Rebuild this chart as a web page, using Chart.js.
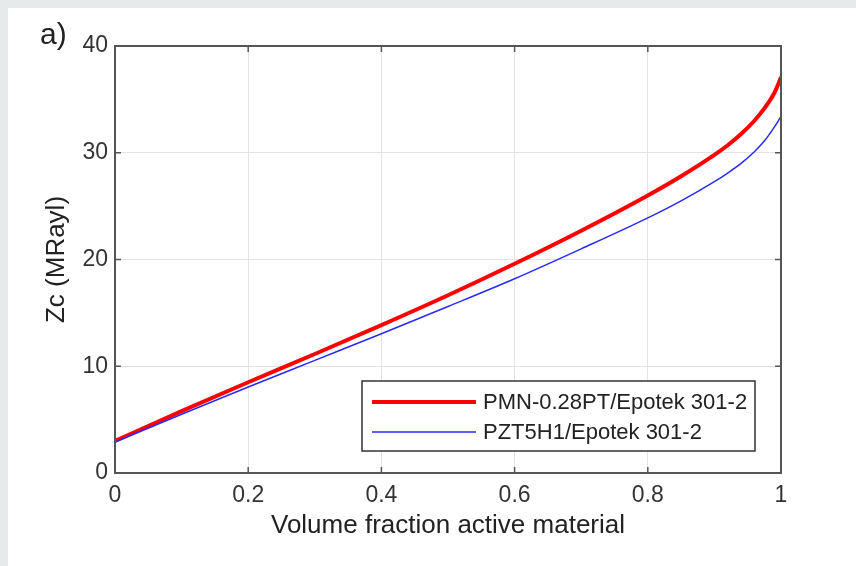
<!DOCTYPE html>
<html>
<head>
<meta charset="utf-8">
<script src="https://cdn.jsdelivr.net/npm/chart.js@4.4.0/dist/chart.umd.min.js"></script>
<style>
  html, body { margin: 0; padding: 0; background: #e7eaeb; }
  #wrap { position: absolute; left: 0; top: 0; width: 856px; height: 566px; }
</style>
</head>
<body>
<div id="wrap"><canvas id="zcChart" width="856" height="566"></canvas></div>
<script>
// Dados
const fractions = [0, 0.1, 0.2, 0.3, 0.4, 0.5, 0.6, 0.7, 0.8, 0.85, 0.9, 0.92, 0.94, 0.96, 0.975, 0.99, 0.995, 1.0];
const pmnValues = [3.0, 5.8, 8.5, 11.15, 13.85, 16.65, 19.6, 22.7, 26.0, 27.8, 29.8, 30.7, 31.75, 33.0, 34.15, 35.6, 36.3, 37.1];
const pztValues = [2.9, 5.5, 8.05, 10.55, 13.05, 15.6, 18.2, 21.0, 23.9, 25.5, 27.3, 28.1, 29.0, 30.1, 31.1, 32.4, 32.9, 33.4];
const xTicks = [0, 0.2, 0.4, 0.6, 0.8, 1];
const yTicks = [0, 10, 20, 30, 40];
const seriesLabels = ['PMN-0.28PT/Epotek 301-2', 'PZT5H1/Epotek 301-2'];

const FONT = 'Liberation Sans, Arial, sans-serif';

function toPoints(xs, ys) {
    return xs.map((x, i) => ({ x: x, y: ys[i] }));
}

// Fundo: moldura cinza + painel branco
const backgroundPlugin = {
    id: 'background',
    beforeDraw(chart) {
        const ctx = chart.ctx;
        ctx.save();
        ctx.fillStyle = '#e7eaeb';
        ctx.fillRect(0, 0, chart.width, chart.height);
        ctx.fillStyle = '#ffffff';
        ctx.fillRect(8, 8, chart.width - 8, chart.height - 8);
        ctx.font = '30px ' + FONT;
        ctx.fillStyle = '#222';
        ctx.textBaseline = 'alphabetic';
        ctx.fillText('a)', 40, 44);
        ctx.restore();
    }
};

// Caixa do eixo com ticks para dentro (estilo MATLAB)
const boxPlugin = {
    id: 'axisBox',
    afterDatasetsDraw(chart) {
        const { ctx, chartArea: a, scales } = chart;
        ctx.save();
        ctx.strokeStyle = '#555';
        ctx.lineWidth = 1.5;
        xTicks.forEach(v => {
            const px = scales.x.getPixelForValue(v);
            ctx.beginPath();
            ctx.moveTo(px, a.bottom); ctx.lineTo(px, a.bottom - 6);
            ctx.moveTo(px, a.top); ctx.lineTo(px, a.top + 6);
            ctx.stroke();
        });
        yTicks.forEach(v => {
            const py = scales.y.getPixelForValue(v);
            ctx.beginPath();
            ctx.moveTo(a.left, py); ctx.lineTo(a.left + 6, py);
            ctx.moveTo(a.right, py); ctx.lineTo(a.right - 6, py);
            ctx.stroke();
        });
        ctx.lineWidth = 2;
        ctx.strokeRect(a.left, a.top, a.right - a.left, a.bottom - a.top);
        ctx.restore();
    }
};

// Legenda dentro da área do gráfico
const legendPlugin = {
    id: 'boxLegend',
    afterDraw(chart) {
        const ctx = chart.ctx;
        const x0 = 362, y0 = 381, w = 393, h = 70;
        ctx.save();
        ctx.fillStyle = '#fff';
        ctx.fillRect(x0, y0, w, h);
        ctx.strokeStyle = '#333';
        ctx.lineWidth = 1.5;
        ctx.strokeRect(x0, y0, w, h);
        ctx.font = '22px ' + FONT;
        ctx.textBaseline = 'middle';
        chart.data.datasets.forEach((ds, i) => {
            const y = y0 + 21 + i * 30;
            ctx.strokeStyle = ds.borderColor;
            ctx.lineWidth = ds.borderWidth;
            ctx.beginPath();
            ctx.moveTo(x0 + 10, y);
            ctx.lineTo(x0 + 114, y);
            ctx.stroke();
            ctx.fillStyle = '#222';
            ctx.fillText(ds.label, x0 + 121, y + 1);
        });
        ctx.restore();
    }
};

const zcChart = new Chart(document.getElementById('zcChart'), {
    type: 'line',
    data: {
        datasets: [{
            label: seriesLabels[0],
            data: toPoints(fractions, pmnValues),
            borderColor: '#ff0000',
            borderWidth: 4,
            pointRadius: 0,
            cubicInterpolationMode: 'monotone',
            order: 1
        }, {
            label: seriesLabels[1],
            data: toPoints(fractions, pztValues),
            borderColor: '#2a2aff',
            borderWidth: 1.5,
            pointRadius: 0,
            cubicInterpolationMode: 'monotone',
            order: 0
        }]
    },
    options: {
        responsive: false,
        animation: false,
        layout: { padding: { left: 0, top: 46, right: 75, bottom: 0 } },
        plugins: {
            legend: { display: false },
            tooltip: { enabled: false }
        },
        scales: {
            x: {
                type: 'linear',
                min: 0,
                max: 1,
                afterBuildTicks(scale) {
                    scale.ticks = xTicks.map(v => ({ value: v }));
                },
                afterFit(scale) { scale.height = 93; },
                grid: { color: '#e3e3e3', lineWidth: 1, drawTicks: false },
                border: { display: false },
                ticks: {
                    padding: 9,
                    color: '#333',
                    font: { family: FONT, size: 23 },
                    callback: v => String(v)
                },
                title: {
                    display: true,
                    text: 'Volume fraction active material',
                    color: '#222',
                    font: { family: FONT, size: 26 },
                    padding: { top: 0, bottom: 25 }
                }
            },
            y: {
                min: 0,
                max: 40,
                afterBuildTicks(scale) {
                    scale.ticks = yTicks.map(v => ({ value: v }));
                },
                afterFit(scale) { scale.width = 115; },
                grid: { color: '#e3e3e3', lineWidth: 1, drawTicks: false },
                border: { display: false },
                ticks: {
                    padding: 7,
                    color: '#333',
                    font: { family: FONT, size: 23 }
                },
                title: {
                    display: true,
                    text: 'Zc (MRayl)',
                    color: '#222',
                    font: { family: FONT, size: 26 },
                    padding: { top: 41, bottom: 0 }
                }
            }
        }
    },
    plugins: [backgroundPlugin, boxPlugin, legendPlugin]
});
</script>
</body>
</html>
